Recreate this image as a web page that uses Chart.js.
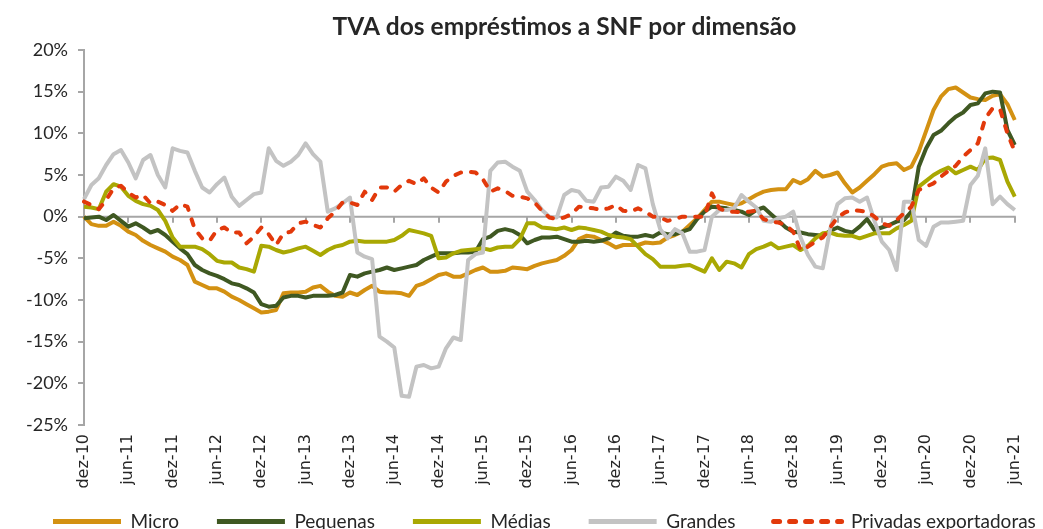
<!DOCTYPE html>
<html>
<head>
<meta charset="utf-8">
<script src="https://cdn.jsdelivr.net/npm/chart.js@4.4.1/dist/chart.umd.min.js"></script>
<style>
html,body{margin:0;padding:0;background:#ffffff;}
#wrap{position:relative;width:1043px;height:529px;}
</style>
</head>
<body>
<div id="wrap"><canvas id="c"></canvas></div>
<script>
const categories = [
  'dez-10',
  'jan-11','fev-11','mar-11','abr-11','mai-11','jun-11','jul-11','ago-11','set-11','out-11','nov-11','dez-11',
  'jan-12','fev-12','mar-12','abr-12','mai-12','jun-12','jul-12','ago-12','set-12','out-12','nov-12','dez-12',
  'jan-13','fev-13','mar-13','abr-13','mai-13','jun-13','jul-13','ago-13','set-13','out-13','nov-13','dez-13',
  'jan-14','fev-14','mar-14','abr-14','mai-14','jun-14','jul-14','ago-14','set-14','out-14','nov-14','dez-14',
  'jan-15','fev-15','mar-15','abr-15','mai-15','jun-15','jul-15','ago-15','set-15','out-15','nov-15','dez-15',
  'jan-16','fev-16','mar-16','abr-16','mai-16','jun-16','jul-16','ago-16','set-16','out-16','nov-16','dez-16',
  'jan-17','fev-17','mar-17','abr-17','mai-17','jun-17','jul-17','ago-17','set-17','out-17','nov-17','dez-17',
  'jan-18','fev-18','mar-18','abr-18','mai-18','jun-18','jul-18','ago-18','set-18','out-18','nov-18','dez-18',
  'jan-19','fev-19','mar-19','abr-19','mai-19','jun-19','jul-19','ago-19','set-19','out-19','nov-19','dez-19',
  'jan-20','fev-20','mar-20','abr-20','mai-20','jun-20','jul-20','ago-20','set-20','out-20','nov-20','dez-20',
  'jan-21','fev-21','mar-21','abr-21','mai-21','jun-21'
];

// Tick labels shown on the x axis (every six months)
const tickLabels = ['dez-10','jun-11','dez-11','jun-12','dez-12','jun-13','dez-13','jun-14','dez-14','jun-15','dez-15',
  'jun-16','dez-16','jun-17','dez-17','jun-18','dez-18','jun-19','dez-19','jun-20','dez-20','jun-21'];

const micro = [
  0, -0.9, -1.1, -1.1, -0.6, -1.1, -1.8, -2.2, -2.9, -3.4, -3.8,
  -4.2, -4.8, -5.2, -5.8, -7.8, -8.2, -8.6, -8.6, -9.0, -9.6, -10.0,
  -10.5, -11.0, -11.5, -11.4, -11.2, -9.2, -9.1, -9.1, -9.0, -8.5, -8.3,
  -9.0, -9.5, -9.6, -9.1, -9.4, -8.8, -8.3, -9.0, -9.1, -9.1,
  -9.2, -9.5, -8.3, -8.0, -7.5, -7.0, -6.8, -7.2, -7.2, -6.8, -6.4,
  -6.1, -6.6, -6.6, -6.5, -6.1, -6.2, -6.3, -5.9, -5.6, -5.4,
  -5.2, -4.7, -4.0, -2.7, -2.3, -2.4, -2.8, -3.2, -3.7, -3.4,
  -3.4, -3.4, -3.1, -3.2, -3.1, -2.5, -2.2, -1.8, -1.0, -0.2,
  0.8, 1.8, 1.8, 1.6, 1.4, 1.6, 2.1, 2.6, 3.0, 3.2,
  3.3, 3.3, 4.4, 4.0, 4.5, 5.5, 4.8, 5.0, 5.3, 4.0,
  2.9, 3.5, 4.3, 5.1, 6.0, 6.3, 6.4, 5.6, 6.0, 7.8,
  10.3, 12.8, 14.4, 15.3, 15.5, 14.9, 14.3, 14.1, 14.0, 14.5, 14.7, 13.5, 11.6
];

const pequenas = [
  -0.2, -0.1, 0, -0.4, 0.2, -0.5, -1.2, -0.8, -1.3, -1.9, -1.6,
  -2.2, -3.0, -3.8, -4.5, -5.8, -6.4, -6.8, -7.1, -7.5, -8.0, -8.2,
  -8.6, -9.1, -10.5, -10.8, -10.7, -9.7, -9.5, -9.5, -9.7, -9.5, -9.5,
  -9.5, -9.4, -9.1, -7.0, -7.2, -6.8, -6.6, -6.4, -6.1, -6.4,
  -6.2, -6.0, -5.8, -5.2, -4.8, -4.4, -4.4, -4.4, -4.3, -4.3, -4.2,
  -2.7, -2.4, -1.7, -1.5, -1.7, -2.2, -3.2, -2.8, -2.5, -2.5,
  -2.4, -2.7, -3.0, -3.0, -2.9, -3.0, -2.9, -2.6, -1.9, -2.3,
  -2.4, -2.4, -2.2, -2.4, -1.9, -2.1, -2.1, -1.8, -1.5, -0.3,
  0.6, 1.2, 1.1, 1.0, 0.8, 0.6, 0.2, 0.8, 1.1, 0.3,
  -0.5, -1.3, -1.8, -1.9, -2.1, -2.2, -2.3, -1.7, -1.3, -1.7,
  -1.9, -1.2, -0.3, -1.6, -1.3, -1.0, -0.6, -0.4, 0.6, 6.0,
  8.2, 9.8, 10.3, 11.2, 12.0, 12.5, 13.4, 13.6, 14.8, 15.0, 14.9, 10.4, 8.6
];

const medias = [
  1.2, 1.1, 0.9, 3.0, 3.9, 3.6, 2.5, 1.9, 1.5, 1.3, 0.8,
  -0.5, -2.5, -3.6, -3.6, -3.6, -3.9, -4.5, -5.3, -5.5, -5.5, -6.1,
  -6.3, -6.6, -3.5, -3.6, -4.0, -4.3, -4.1, -3.8, -3.6, -4.1, -4.6,
  -4.0, -3.6, -3.4, -3.0, -2.9, -3.0, -3.0, -3.0, -3.0, -2.8,
  -2.3, -1.6, -1.8, -2.0, -2.3, -5.0, -4.9, -4.4, -4.1, -4.0, -3.9,
  -3.8, -4.0, -3.7, -3.6, -3.6, -2.7, -0.8, -0.8, -1.3, -1.4,
  -1.5, -1.3, -1.6, -1.3, -1.4, -1.6, -1.8, -2.2, -2.4, -2.5,
  -2.7, -3.6, -4.5, -5.1, -6.0, -6.0, -6.0, -5.9, -5.8, -6.2,
  -6.6, -5.0, -6.4, -5.4, -5.6, -6.1, -4.5, -3.9, -3.6, -3.2,
  -3.8, -3.6, -3.4, -4.0, -3.5, -2.6, -2.0, -1.9, -2.2, -2.3,
  -2.3, -2.6, -2.3, -2.0, -2.0, -2.0, -1.4, -1.0, -0.5, 3.6,
  4.3, 5.0, 5.5, 5.9, 5.2, 5.6, 6.0, 5.6, 7.0, 7.1, 6.8, 4.2, 2.4
];

const grandes = [
  2.1, 3.8, 4.6, 6.2, 7.5, 8.0, 6.5, 4.6, 6.8, 7.4, 5.0,
  3.5, 8.2, 7.9, 7.7, 5.5, 3.5, 2.9, 3.9, 4.7, 2.4, 1.3,
  2.0, 2.7, 2.9, 8.2, 6.7, 6.1, 6.6, 7.4, 8.8, 7.5, 6.6,
  0.6, 1.0, 1.6, 2.3, -4.3, -4.8, -5.1, -14.4, -15.0, -15.7,
  -21.5, -21.6, -18.0, -17.8, -18.2, -18.0, -15.8, -14.5, -14.8, -5.2, -4.5,
  -4.3, 5.5, 6.5, 6.6, 6.0, 5.5, 3.0, 2.0, 0.8, 0.0,
  -0.1, 2.6, 3.2, 3.0, 1.9, 1.8, 3.5, 3.6, 4.8, 4.3,
  3.2, 6.2, 5.8, 1.5, -1.5, -2.6, -1.5, -2.0, -4.2, -4.2,
  -4.0, 0.0, 0.8, 0.8, 1.0, 2.6, 1.8, 1.1, -0.5, -0.6,
  -0.2, 0.0, 0.6, -2.5, -4.6, -6.0, -6.2, -1.5, 1.5, 2.2,
  2.3, 1.8, 2.3, -0.5, -3.0, -4.0, -6.4, 1.8, 1.8, -2.8,
  -3.5, -1.2, -0.7, -0.7, -0.6, -0.5, 3.8, 4.9, 8.2, 1.5, 2.4, 1.5, 0.8
];

const privadasExportadoras = [
  1.8, 1.4, 0.9, 2.0, 3.4, 3.7, 2.9, 2.3, 2.6, 1.6, 1.8,
  1.4, 0.7, 1.5, 1.2, -1.5, -2.6, -2.9, -1.6, -1.3, -1.9, -1.9,
  -3.2, -2.4, -1.3, -2.1, -3.4, -2.0, -1.8, -0.8, -0.6, -1.0, -1.3,
  -0.2, 0.6, 1.7, 1.7, 1.4, 3.0, 2.0, 3.5, 3.5, 3.0,
  3.8, 4.3, 3.9, 4.6, 3.5, 2.9, 4.2, 4.9, 5.3, 5.4, 5.3,
  4.5, 3.0, 3.4, 3.1, 2.5, 2.4, 2.2, 1.7, 0.7, -0.1,
  -0.3, -0.1, 0.3, 1.2, 1.1, 1.0, 0.8, 1.0, 1.4, 0.7,
  0.6, 1.0, 0.6, 0.0, -0.1, -0.5, -0.3, 0.0, 0.0, 0.0,
  0.0, 2.8, 1.0, 0.6, 0.6, 0.5, 0.6, 0.7, -0.3, -0.6,
  -0.7, -1.0, -1.8, -4.0, -3.6, -3.0, -2.5, -1.3, -0.1, 0.5,
  0.8, 0.7, 0.6, 0.0, -0.8, -1.1, -0.4, 0.4, 1.2, 3.2,
  3.6, 4.0, 4.8, 5.5, 6.1, 7.2, 8.0, 8.8, 11.8, 13.0, 12.9, 10.0, 7.8
];

const yMin = -25, yMax = 20, yStep = 5;

const AXIS_GRAY = '#A6A6A6';
const TEXT = '#262626';

// zero line with small ticks (the category axis line of the original)
const zeroLine = {
  id: 'zeroLine',
  beforeDatasetsDraw(chart) {
    const {ctx, chartArea, scales} = chart;
    const x = scales.x, y = scales.y;
    const y0 = y.getPixelForValue(0);
    const xEnd = x.getPixelForValue(categories.length - 1);
    ctx.save();
    ctx.strokeStyle = AXIS_GRAY;
    ctx.lineWidth = 2;
    ctx.beginPath();
    ctx.moveTo(chartArea.left, y0);
    ctx.lineTo(xEnd + 1, y0);
    categories.forEach((c, i) => {
      if (tickLabels.includes(c)) {
        const px = Math.round(x.getPixelForValue(i));
        ctx.moveTo(px, y0);
        ctx.lineTo(px, y0 + 6);
      }
    });
    ctx.stroke();
    ctx.restore();
  }
};

// fine placement of title and legend boxes
const placeBoxes = {
  id: 'placeBoxes',
  afterLayout(chart) {
    const t = chart.titleBlock;
    if (t) { t.left += 15; t.right += 15; }
    const lg = chart.legend;
    if (lg) {
      const dx = 35, dy = -19;
      lg.left += dx; lg.right += dx;
      lg.top += dy; lg.bottom += dy;
    }
  }
};

const mk = (label, data, color, order, dash) => ({
  label, data, order,
  borderColor: color,
  backgroundColor: color,
  borderWidth: 4,
  borderDash: dash || [],
  borderCapStyle: dash ? 'round' : 'butt',
  borderJoinStyle: 'round',
  pointRadius: 0,
  pointHoverRadius: 0,
  tension: 0,
  fill: false
});

new Chart(document.getElementById('c'), {
  type: 'line',
  data: {
    labels: categories,
    datasets: [
      mk('Micro', micro, '#D39112', 5),
      mk('Pequenas', pequenas, '#3F5822', 4),
      mk('Médias', medias, '#A9A803', 3),
      mk('Grandes', grandes, '#C3C3C3', 2),
      mk('Privadas exportadoras', privadasExportadoras, '#E2390B', 1, [6, 10])
    ]
  },
  options: {
    responsive: true,
    maintainAspectRatio: false,
    animation: false,
    layout: { padding: { left: -20, right: 0, top: 0, bottom: -31 } },
    plugins: {
      title: {
        display: true,
        text: 'TVA dos empréstimos a SNF por dimensão',
        fullSize: false,
        color: TEXT,
        font: { family: 'Lato', size: 24.5, weight: 'bold' },
        padding: { top: 12.5, bottom: 8.1 }
      },
      legend: {
        position: 'bottom',
        align: 'start',
        labels: {
          usePointStyle: true,
          pointStyle: 'line',
          pointStyleWidth: 68,
          padding: 38,
          color: TEXT,
          font: { family: 'Lato', size: 19 },
          sort: (a, b) => a.datasetIndex - b.datasetIndex,
          generateLabels: (chart) => {
            const items = Chart.defaults.plugins.legend.labels.generateLabels(chart);
            items.forEach(it => {
              const ds = chart.data.datasets[it.datasetIndex];
              it.lineDash = ds.borderDash;
              it.lineCap = ds.borderCapStyle;
              it.lineWidth = 5;
              it.strokeStyle = ds.borderColor;
            });
            return items;
          }
        }
      },
      tooltip: { enabled: false }
    },
    scales: {
      x: {
        type: 'category',
        offset: false,
        grid: { display: false, drawTicks: false },
        border: { display: false },
        ticks: {
          autoSkip: false,
          maxRotation: 90,
          minRotation: 90,
          padding: 9,
          color: TEXT,
          font: { family: 'DejaVu Sans', size: 16 },
          callback: (v, i) => tickLabels.includes(categories[i]) ? categories[i] : ''
        },
        afterFit: s => { s.height = 68; }
      },
      y: {
        min: yMin,
        max: yMax,
        ticks: {
          stepSize: yStep,
          padding: 10,
          color: TEXT,
          font: { family: 'Lato', size: 18 },
          callback: v => v + '%'
        },
        grid: { drawOnChartArea: false, drawTicks: true, tickLength: 6, color: AXIS_GRAY, lineWidth: 2 },
        border: { display: true, color: AXIS_GRAY, width: 2 },
        afterFit: s => { s.width = 104; }
      },
      yR: {
        position: 'right',
        display: true,
        ticks: { display: false },
        grid: { display: false, drawTicks: false },
        border: { display: false },
        afterFit: s => { s.width = 24; }
      }
    }
  },
  plugins: [zeroLine, placeBoxes]
});
</script>
</body>
</html>
